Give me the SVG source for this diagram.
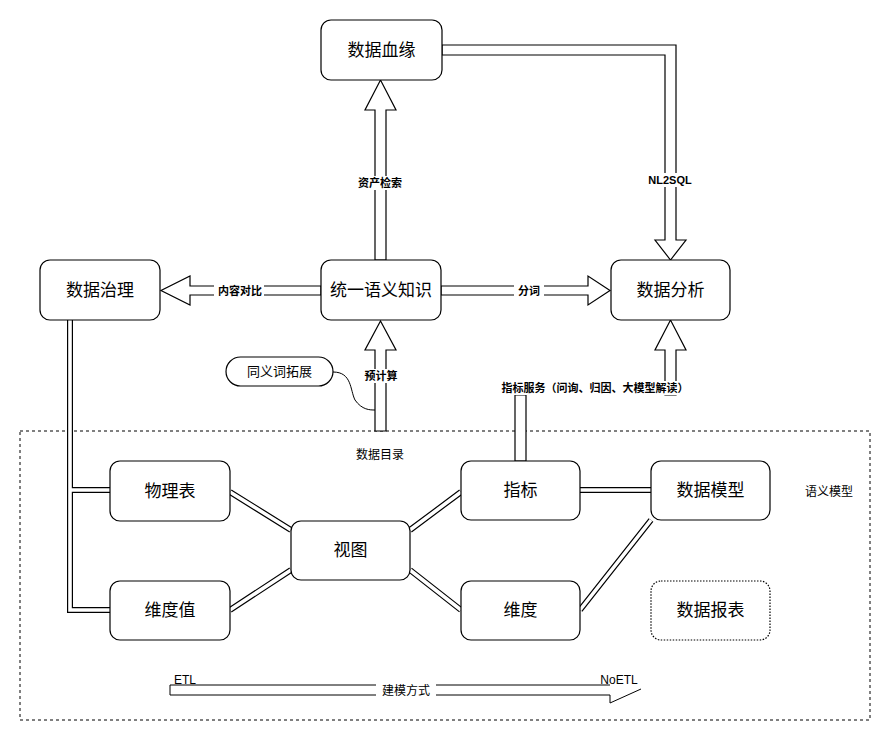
<svg xmlns="http://www.w3.org/2000/svg" width="891" height="741" viewBox="0 0 891 741">
<style>
.n{fill:#fff;stroke:#000;stroke-width:1.2}
.t{font-family:"Liberation Sans","Noto Sans CJK SC",sans-serif;font-size:17px;text-anchor:middle;dominant-baseline:central}
.l{font-family:"Liberation Sans","Noto Sans CJK SC",sans-serif;font-size:11px;font-weight:bold;text-anchor:middle;dominant-baseline:central}
.s{font-family:"Liberation Sans","Noto Sans CJK SC",sans-serif;font-size:12px;text-anchor:middle;dominant-baseline:central}
.a{fill:#fff;stroke:#000;stroke-width:1.2}
.db{fill:none;stroke:#000;stroke-width:6}
.dw{fill:none;stroke:#fff;stroke-width:3.6}
.lb{fill:#fff}
</style>
<rect width="891" height="741" fill="#fff"/>
<rect x="20" y="431" width="850" height="289" fill="none" stroke="#000" stroke-dasharray="3 3"/>
<g id="connectors">
<path class="db" d="M70 320V610H110M70 490H110M230 492L291 530M230 610L291 570M410 530L461 492M410 570L461 610M580 490H651M580 610L651 520"/>
<path class="dw" d="M70 320V610H110M70 490H110M230 492L291 530M230 610L291 570M410 530L461 492M410 570L461 610M580 490H651M580 610L651 520"/>
<path class="a" d="M375 260V110H365L380.5 80L396 110H386V260Z"/>
<rect class="lb" x="352" y="176" width="56" height="14"/>
<text class="l" x="380" y="183">资产检索</text>
<path class="a" d="M321 286H190V276L161 290.5L190 305V295H321Z"/>
<rect class="lb" x="214" y="284" width="50" height="14"/>
<text class="l" x="240" y="291">内容对比</text>
<path class="a" d="M441 286H588V276L610 290.5L588 305V295H441Z"/>
<rect class="lb" x="514" y="284" width="30" height="14"/>
<text class="l" x="529" y="291">分词</text>
<path class="a" d="M375 431V350H365L380.5 321L396 350H386V431Z"/>
<rect class="lb" x="357" y="369" width="48" height="14"/>
<text class="l" x="381" y="376">预计算</text>
<path class="a" d="M442 45H676V240H686L670.5 260L655 240H665V55H442Z"/>
<rect class="lb" x="644" y="173" width="52" height="14"/>
<text class="l" x="670" y="180">NL2SQL</text>
<path class="a" d="M665 395V350H655L670.5 320L686 350H676V395Z"/>
<path class="a" d="M515 461V395H526V461Z"/>
<rect class="lb" x="490" y="381" width="210" height="14"/>
<text class="l" x="595" y="388">指标服务（问询、归因、大模型解读）</text>
<path d="M333 372C352 372 350 390 355 400C362 410 370 410 375 410" fill="none" stroke="#000" stroke-width="1"/>
<path d="M170 695V685H610M610 695H170M610 695V703L641 689" fill="none" stroke="#000" stroke-width="1"/>
<rect class="lb" x="376" y="683" width="60" height="14"/>
<text class="s" x="406" y="691">建模方式</text>
<text class="s" x="185" y="680">ETL</text>
<text class="s" x="619" y="680">NoETL</text>
</g>
<g id="n1"><rect class="n" x="321" y="20" width="121" height="60" rx="10"/><text class="t" x="381.5" y="50">数据血缘</text></g>
<g id="n2"><rect class="n" x="40" y="260" width="120" height="60" rx="10"/><text class="t" x="100" y="290">数据治理</text></g>
<g id="n3"><rect class="n" x="321" y="260" width="120" height="60" rx="10"/><text class="t" x="381" y="290">统一语义知识</text></g>
<g id="n4"><rect class="n" x="611" y="260" width="119" height="60" rx="10"/><text class="t" x="670.5" y="290">数据分析</text></g>
<g id="n5"><rect class="n" x="226" y="357" width="107" height="29" rx="14.5"/><text class="s" x="279.5" y="371.5" style="font-size:13px">同义词拓展</text></g>
<g id="n6"><rect class="n" x="110" y="461" width="120" height="60" rx="10"/><text class="t" x="170" y="491">物理表</text></g>
<g id="n7"><rect class="n" x="291" y="521" width="119" height="59" rx="10"/><text class="t" x="350.5" y="550.5">视图</text></g>
<g id="n8"><rect class="n" x="461" y="461" width="119" height="59" rx="10"/><text class="t" x="520.5" y="490.5">指标</text></g>
<g id="n9"><rect class="n" x="651" y="461" width="119" height="59" rx="10"/><text class="t" x="710.5" y="490.5">数据模型</text></g>
<g id="n10"><rect class="n" x="110" y="581" width="120" height="59" rx="10"/><text class="t" x="170" y="610.5">维度值</text></g>
<g id="n11"><rect class="n" x="461" y="581" width="119" height="59" rx="10"/><text class="t" x="520.5" y="610.5">维度</text></g>
<g id="n12"><rect class="n" x="651" y="581" width="119" height="59" rx="10" stroke-dasharray="1.5 1.5" stroke-width="1"/><text class="t" x="710.5" y="610.5">数据报表</text></g>
<text class="s" x="380" y="455">数据目录</text>
<text class="s" x="829" y="492">语义模型</text>
</svg>
